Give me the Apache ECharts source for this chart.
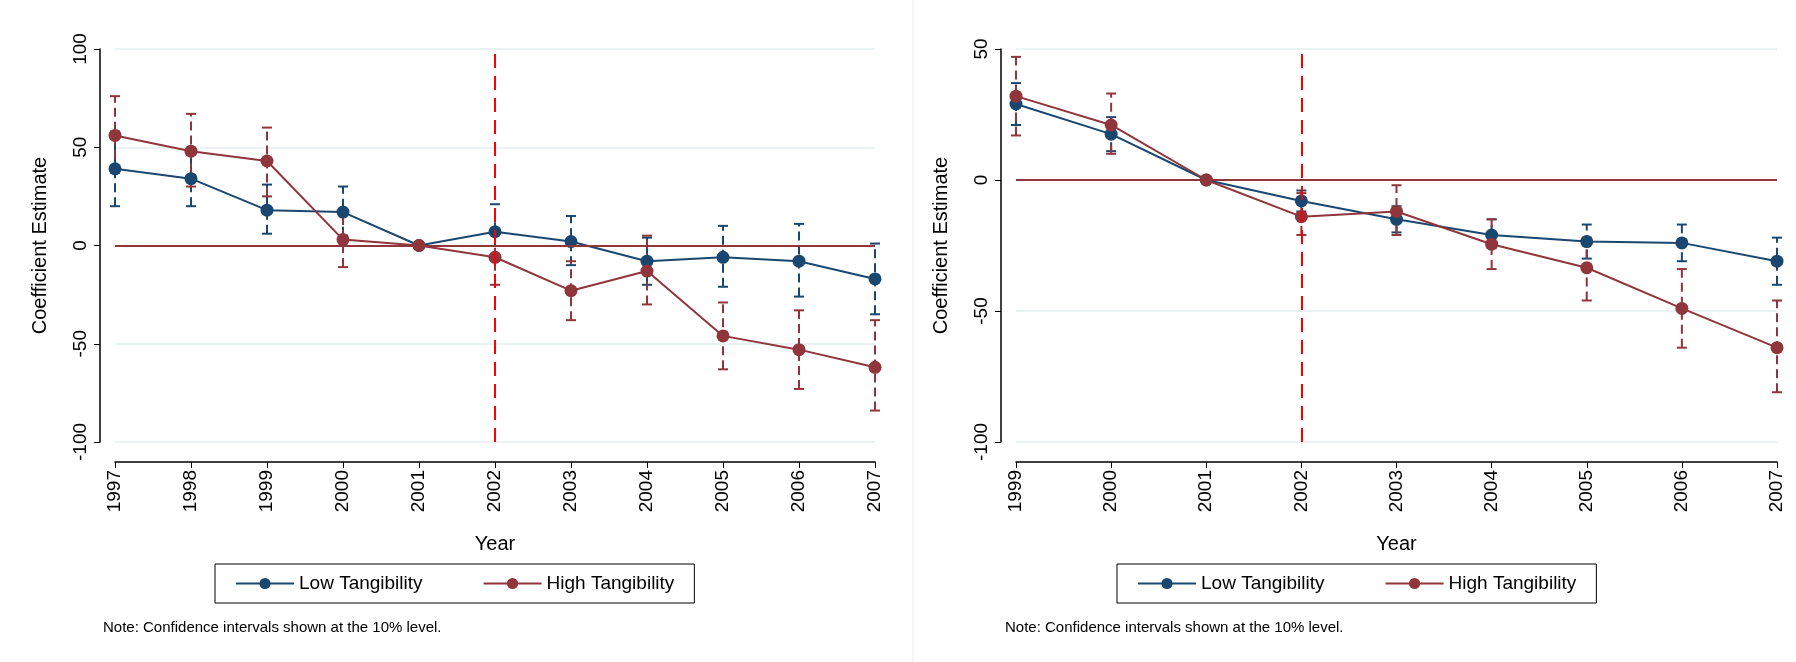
<!DOCTYPE html><html><head><meta charset="utf-8"><script src="https://cdn.jsdelivr.net/npm/echarts@6/dist/echarts.min.js"></script></head><body style="margin:0;background:#fff"><div id="c" style="width:1796px;height:662px"></div><script>
const yearsL=[1997,1998,1999,2000,2001,2002,2003,2004,2005,2006,2007];
const lowL=[39,34,18,17,0,7,2,-8,-6,-8,-17];
const lowLlo=[20,20,6,5,0,-7,-10,-20,-21,-26,-35];
const lowLhi=[58,49,31,30,0,21,15,4,10,11,1];
const highL=[56,48,43,3,0,-6,-23,-13,-46,-53,-62];
const highLlo=[37,30,25,-11,0,-20,-38,-30,-63,-73,-84];
const highLhi=[76,67,60,18,0,8,-8,5,-29,-33,-38];
const yearsR=[1999,2000,2001,2002,2003,2004,2005,2006,2007];
const lowR=[29,17.5,0,-8,-15,-21,-23.5,-24,-31];
const lowRlo=[21,11,0,-12,-20,-26,-30,-31,-40];
const lowRhi=[37,24,0,-4,-10,-15,-17,-17,-22];
const highR=[32,21,0,-14,-12,-24.5,-33.5,-49,-64];
const highRlo=[17,10,0,-21,-21,-34,-46,-64,-81];
const highRhi=[47,33,0,-5,-2,-15,-22,-34,-46];
const CL='#1a476f',CH='#90353b';
const ch=echarts.init(document.getElementById('c'));
function zip(x,a){return x.map((v,i)=>[v,a[i]]);}
function zip3(x,a,b){return x.map((v,i)=>[v,a[i],b[i]]).filter(d=>d[1]!==d[2]);}
function eb(name,xi,col,x,lo,hi){return {type:'custom',name:name,xAxisIndex:xi,yAxisIndex:xi,data:zip3(x,lo,hi),z:3,
 renderItem:(p,api)=>{const a=api.coord([api.value(0),api.value(1)]),b=api.coord([api.value(0),api.value(2)]);const w=5;
 const st={stroke:col,lineWidth:2};
 return {type:'group',children:[
 {type:'line',shape:{x1:a[0],y1:a[1],x2:b[0],y2:b[1]},style:{stroke:col,lineWidth:2,lineDash:[9,5]}},
 {type:'line',shape:{x1:a[0]-w,y1:a[1],x2:a[0]+w,y2:a[1]},style:st},
 {type:'line',shape:{x1:b[0]-w,y1:b[1],x2:b[0]+w,y2:b[1]},style:st}]};}};}
function ln(name,xi,col,x,y,extra){return Object.assign({type:'line',name:name,xAxisIndex:xi,yAxisIndex:xi,data:zip(x,y),symbol:'circle',symbolSize:13,
 color:col,lineStyle:{color:col,width:2},itemStyle:{color:col},z:4},extra||{});}
const font='Liberation Sans, Arial, sans-serif';
function xax(gi,min,max){return {type:'value',gridIndex:gi,min:min,max:max,interval:1,offset:20,
 name:'Year',nameLocation:'middle',nameGap:72,nameTextStyle:{fontSize:20,color:'#000',fontFamily:font},
 axisLine:{onZero:false,lineStyle:{color:'#000',width:1.5}},axisTick:{length:6,lineStyle:{color:'#000'}},splitLine:{show:false},
 axisLabel:{rotate:90,fontSize:19,color:'#000',fontFamily:font,margin:8,formatter:v=>String(v)}};}
function yax(gi,min,max){return {type:'value',gridIndex:gi,min:min,max:max,interval:50,offset:15,
 name:'Coefficient Estimate',nameLocation:'middle',nameGap:50,nameTextStyle:{fontSize:20,color:'#000',fontFamily:font},
 axisLine:{show:true,onZero:false,lineStyle:{color:'#000',width:1.5}},axisTick:{show:true,length:6,lineStyle:{color:'#000'}},
 splitLine:{lineStyle:{color:'#eaf2f3',width:2}},
 axisLabel:{rotate:90,fontSize:19,color:'#000',fontFamily:font,margin:10,align:'center',verticalAlign:'bottom'}};}
const lg=(left,w,gi)=>({left:left,top:564,width:w,height:43,itemGap:60,itemWidth:58,itemHeight:14,padding:[10,20],
 borderColor:'#000',borderWidth:1,textStyle:{fontSize:19,color:'#000',fontFamily:font},
 data:[{name:'Low Tangibility'},{name:'High Tangibility'}]});
const zeroMark={symbol:'none',silent:true,label:{show:false},data:[{yAxis:0,lineStyle:{color:CH,type:'solid',width:2}},{xAxis:2002,lineStyle:{color:'#ff0000',type:[14,8],width:2}}]};
ch.setOption({animation:false,color:[CL,CH],
 grid:[{left:115,right:921,top:49,bottom:220},{left:1016,right:19,top:49,bottom:220}],
 xAxis:[xax(0,1997,2007),xax(1,1999,2007)],
 yAxis:[yax(0,-100,100),yax(1,-100,50)],
 legend:[lg(215,573),lg(1117,558)],
 graphic:[
  {type:'text',left:103,top:620,style:{text:'Note: Confidence intervals shown at the 10% level.',fontSize:15,fill:'#000',fontFamily:font}},
  {type:'text',left:1005,top:620,style:{text:'Note: Confidence intervals shown at the 10% level.',fontSize:15,fill:'#000',fontFamily:font}},
  {type:'line',shape:{x1:913,y1:0,x2:913,y2:662},style:{stroke:'#eef3f5',lineWidth:1.5}}],
 series:[
  eb('lowCI_L',0,CL,yearsL,lowLlo,lowLhi),eb('highCI_L',0,CH,yearsL,highLlo,highLhi),
  ln('Low Tangibility',0,CL,yearsL,lowL),
  ln('High Tangibility',0,CH,yearsL,highL,{markLine:zeroMark}),
  eb('lowCI_R',1,CL,yearsR,lowRlo,lowRhi),eb('highCI_R',1,CH,yearsR,highRlo,highRhi),
  ln('Low Tangibility',1,CL,yearsR,lowR),
  ln('High Tangibility',1,CH,yearsR,highR,{markLine:zeroMark})
 ]});
</script></body></html>
